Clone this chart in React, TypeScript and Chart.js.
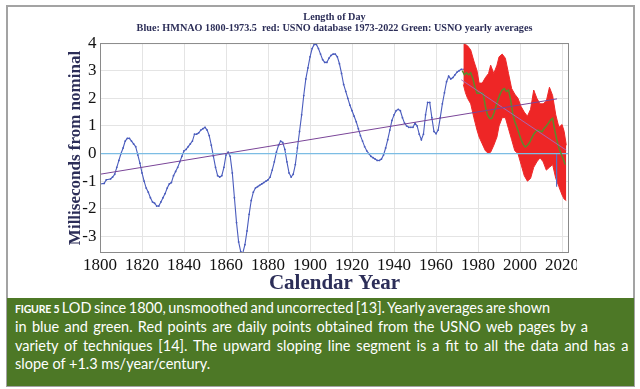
import React, { useEffect, useRef } from 'react';
import { Chart, registerables } from 'chart.js';

Chart.register(...registerables);

// Blue: HMNAO yearly LOD 1800-1973.5 (ms from nominal)
const blueYears = [
  1800, 1802, 1803, 1805, 1806, 1807, 1808, 1809, 1810, 1811, 1812, 1813, 1814, 1815, 1816, 1817, 1818, 1819,
  1820, 1821, 1822, 1823, 1824, 1825, 1826, 1827, 1828, 1829, 1830, 1831, 1832, 1833, 1834, 1835, 1836, 1837,
  1838, 1839, 1840, 1841, 1842, 1843, 1844, 1845, 1846, 1847, 1848, 1849, 1850, 1851, 1852, 1853, 1854, 1855,
  1856, 1857, 1858, 1859, 1860, 1861, 1862, 1863, 1864, 1865, 1866, 1867, 1868, 1869, 1870, 1871, 1872, 1873,
  1874, 1875, 1876, 1877, 1878, 1879, 1880, 1881, 1882, 1883, 1884, 1885, 1886, 1887, 1888, 1889, 1890, 1891,
  1892, 1893, 1894, 1895, 1896, 1897, 1898, 1899, 1900, 1901, 1902, 1903, 1904, 1905, 1906, 1907, 1908, 1909,
  1910, 1911, 1912, 1913, 1914, 1915, 1916, 1917, 1918, 1919, 1920, 1921, 1922, 1923, 1924, 1925, 1926, 1927,
  1928, 1929, 1930, 1931, 1932, 1933, 1934, 1935, 1936, 1937, 1938, 1939, 1940, 1941, 1942, 1943, 1944, 1945,
  1946, 1947, 1948, 1949, 1950, 1951, 1952, 1953, 1954, 1955, 1956, 1957, 1958, 1959, 1960, 1961, 1962, 1963,
  1964, 1965, 1966, 1967, 1968, 1969, 1970, 1971, 1972, 1973.5,
];
const blueValues = [
  -1.1, -1.08, -0.95, -0.92, -0.85, -0.75, -0.5, -0.25, 0.0, 0.2, 0.45, 0.55, 0.55, 0.45, 0.35, 0.25, -0.05, -0.35,
  -0.7, -1.0, -1.25, -1.4, -1.6, -1.75, -1.8, -1.9, -1.9, -1.75, -1.6, -1.45, -1.25, -1.1, -1.05, -0.8, -0.65, -0.5,
  -0.3, -0.1, 0.1, 0.15, 0.25, 0.35, 0.45, 0.7, 0.7, 0.75, 0.85, 0.9, 0.95, 0.85, 0.65, 0.3, -0.1, -0.5,
  -0.8, -0.85, -0.8, -0.5, -0.05, 0.05, -0.1, -0.7, -1.6, -2.5, -3.2, -3.55, -3.6, -3.3, -2.8, -2.2, -1.7, -1.4,
  -1.25, -1.2, -1.15, -1.1, -1.05, -1.0, -0.95, -0.85, -0.6, -0.3, 0.05, 0.3, 0.45, 0.4, 0.15, -0.3, -0.7, -0.85,
  -0.75, -0.4, 0.2, 0.8, 1.4, 2.1, 2.7, 3.1, 3.5, 3.8, 3.95, 3.95, 3.8, 3.6, 3.4, 3.3, 3.3, 3.45,
  3.55, 3.6, 3.6, 3.5, 3.25, 2.9, 2.5, 2.25, 2.0, 1.75, 1.55, 1.35, 1.15, 0.9, 0.65, 0.45, 0.25, 0.1,
  0.0, -0.1, -0.15, -0.2, -0.25, -0.25, -0.2, -0.05, 0.2, 0.5, 0.85, 1.2, 1.4, 1.55, 1.6, 1.55, 1.3, 1.1,
  1.0, 0.95, 0.95, 0.95, 1.1, 1.0, 0.7, 0.5, 0.7, 1.4, 1.85, 1.85, 1.3, 0.8, 0.72, 0.85, 1.3, 1.8,
  2.2, 2.6, 2.8, 2.7, 2.75, 2.85, 2.95, 3.0, 3.05, 3.05,
];

// Red: USNO daily data 1973-2022, envelope (upper / lower) of the daily scatter
const redYears = [
  1973, 1974, 1975, 1976.5, 1978, 1979.5, 1980.5, 1982, 1983.5, 1985, 1986, 1987.5, 1989, 1990, 1991.5, 1993,
  1994.5, 1996, 1997.5, 1999, 2000.5, 2002, 2003.5, 2005, 2006.5, 2008, 2009.5, 2011, 2012.5, 2014, 2015.5, 2017,
  2018.5, 2020, 2021, 2022,
];
const redHigh = [
  4.05, 3.95, 3.9, 3.75, 3.35, 3.0, 2.55, 2.55, 2.75, 2.9, 3.2, 2.9, 3.2, 3.5, 3.6, 3.45,
  2.9, 2.35, 2.15, 2.0, 1.7, 1.5, 1.35, 1.6, 2.3, 2.0, 1.8, 1.8, 1.9, 2.4, 2.1, 1.4,
  0.95, 1.05, 0.8, 0.3,
];
const redLow = [
  2.5, 2.2, 2.0, 1.8, 1.3, 0.85, 0.6, 0.35, 0.1, 0.0, 0.05, 0.3, 0.6, 1.0, 1.3, 1.3,
  0.9, 0.5, 0.1, 0.0, -0.4, -0.8, -1.0, -0.9, -0.5, -0.3, -0.15, -0.3, -0.6, -0.5, -0.4, -0.9,
  -1.2, -1.5, -1.65, -1.7,
];

// Green: USNO yearly averages
const greenYears = [
  1972.5, 1973.5, 1974.5, 1975.5, 1976.5, 1977.5, 1978.5, 1979.5, 1980.5, 1981.5, 1982.5, 1983.5, 1984.5, 1985.5,
  1986.5, 1987.5, 1988.5, 1989.5, 1990.5, 1991.5, 1992.5, 1993.5, 1994.5, 1995.5, 1996.5, 1997.5, 1998.5, 1999.5,
  2000.5, 2001.5, 2002.5, 2003.5, 2004.5, 2005.5, 2006.5, 2007.5, 2008.5, 2009.5, 2010.5, 2011.5, 2012.5, 2013.5,
  2014.5, 2015.5, 2016.5, 2017.5, 2018.5, 2019.5, 2020.5, 2021.5,
];
const greenValues = [
  3.0, 2.85, 2.92, 2.85, 2.92, 2.72, 2.4, 2.18, 2.18, 2.2, 2.15, 1.7, 1.4, 1.27,
  1.27, 1.45, 1.7, 1.95, 2.15, 2.3, 2.35, 2.25, 2.3, 1.95, 1.45, 1.15, 0.95, 0.73,
  0.5, 0.33, 0.24, 0.3, 0.4, 0.55, 0.7, 0.8, 0.85, 0.82, 0.79, 0.92, 1.0, 1.1,
  1.21, 1.27, 0.85, 0.5, 0.2, 0.0, -0.2, -0.4,
];

// Fit lines
const trendYears = [1800, 2017.6];
const trendValues = [-0.75, 1.98];
const redFitYears = [1972, 2022];
const redFitValues = [2.67, 0.12];
const zeroYears = [1800, 2023.3];
const zeroValues = [0, 0];
const blueTailYears = [2017.4, 2017.4];
const blueTailValues = [0, -1.2];

const xTicks = [1800, 1820, 1840, 1860, 1880, 1900, 1920, 1940, 1960, 1980, 2000, 2020];
const yTicks = [-3, -2, -1, 0, 1, 2, 3, 4];

const titleLines = [
  'Length of Day',
  'Blue: HMNAO 1800-1973.5  red: USNO database 1973-2022 Green: USNO yearly averages',
];

const captionLines = [
  'LOD since 1800, unsmoothed and uncorrected [13]. Yearly averages are shown',
  'in blue and green. Red points are daily points obtained from the USNO web pages by a',
  'variety of techniques [14]. The upward sloping line segment is a fit to all the data and has a',
  'slope of +1.3 ms/year/century.',
];

const pts = (xs: number[], ys: number[]) => xs.map((x, i) => ({ x, y: ys[i] }));

const SERIF = '"Liberation Serif", "Times New Roman", serif';
const NAVY = '#2c2e58';

export default function App() {
  const ref = useRef<HTMLCanvasElement>(null);

  useEffect(() => {
    document.body.style.margin = '0';
    const canvas = ref.current;
    if (!canvas) return;

    const framePlugin = {
      id: 'plotFrame',
      afterDraw(chart: any) {
        const { ctx, chartArea: a } = chart;
        ctx.save();
        ctx.strokeStyle = '#8a8a8a';
        ctx.lineWidth = 1;
        ctx.strokeRect(a.left + 0.5, a.top + 0.5, a.right - a.left - 1, a.bottom - a.top - 1);
        ctx.restore();
      },
    };

    const chart = new Chart(canvas, {
      type: 'line',
      data: {
        datasets: [
          {
            label: 'trend',
            data: pts(trendYears, trendValues),
            borderColor: '#7a4598',
            borderWidth: 1,
            pointRadius: 0,
            order: 0,
          },
          {
            label: 'red fit',
            data: pts(redFitYears, redFitValues),
            borderColor: 'rgba(160,110,190,0.9)',
            borderWidth: 1,
            pointRadius: 0,
            order: 1,
          },
          {
            label: 'green',
            data: pts(greenYears, greenValues),
            borderColor: '#5b8c2c',
            borderWidth: 1.5,
            pointRadius: 0,
            order: 2,
          },
          {
            label: 'zero',
            data: pts(zeroYears, zeroValues),
            borderColor: '#7cbde4',
            borderWidth: 1.3,
            pointRadius: 0,
            order: 3,
          },
          {
            label: 'blue tail',
            data: pts(blueTailYears, blueTailValues),
            borderColor: '#5a6fc4',
            borderWidth: 1.2,
            pointRadius: 0,
            order: 4,
          },
          {
            label: 'red low',
            data: pts(redYears, redLow),
            borderColor: '#ee2a2a',
            borderWidth: 1,
            backgroundColor: '#ee2626',
            pointRadius: 0,
            fill: 6,
            order: 5,
          },
          {
            label: 'red high',
            data: pts(redYears, redHigh),
            borderColor: '#ee2a2a',
            borderWidth: 1,
            pointRadius: 0,
            order: 6,
          },
          {
            label: 'blue',
            data: pts(blueYears, blueValues),
            borderColor: '#4a5cbd',
            borderWidth: 1.1,
            pointRadius: 0.9,
            pointBackgroundColor: '#4a5cbd',
            pointBorderWidth: 0,
            order: 7,
          },
        ],
      },
      options: {
        responsive: false,
        animation: false,
        events: [],
        layout: { padding: { left: 0, right: 71, top: 12, bottom: 0 } },
        plugins: {
          legend: { display: false },
          tooltip: { enabled: false },
          title: {
            display: true,
            fullSize: false,
            text: titleLines,
            color: NAVY,
            font: { family: SERIF, size: 10.2, weight: 'bold', lineHeight: 1.1 },
            padding: { top: 0, bottom: 8.6 },
          },
        },
        scales: {
          x: {
            type: 'linear',
            min: 1800,
            max: 2023.3,
            afterBuildTicks: (s: any) => {
              s.ticks = xTicks.map((v) => ({ value: v }));
            },
            afterFit: (s: any) => {
              s.height = 296 - 253;
            },
            ticks: {
              color: '#111',
              font: { family: SERIF, size: 17 },
              padding: 2,
              maxRotation: 0,
              autoSkip: false,
              callback: (v: any) => String(v),
            },
            grid: { color: '#e4e4e4', drawTicks: false, tickLength: 0 },
            border: { display: false },
            title: {
              display: true,
              text: 'Calendar Year',
              color: NAVY,
              font: { family: SERIF, size: 21, weight: 'bold' },
              padding: { top: 0, bottom: 0 },
            },
          },
          y: {
            type: 'linear',
            min: -3.6,
            max: 4,
            afterBuildTicks: (s: any) => {
              s.ticks = yTicks.map((v) => ({ value: v }));
            },
            afterFit: (s: any) => {
              s.width = 100;
            },
            ticks: {
              color: '#111',
              font: { family: SERIF, size: 17 },
              padding: 3.5,
              callback: (v: any) => String(v),
            },
            grid: { color: '#e4e4e4', drawTicks: false, tickLength: 0 },
            border: { display: false },
            title: {
              display: true,
              text: 'Milliseconds from nominal',
              color: NAVY,
              font: { family: SERIF, size: 17, weight: 'bold' },
              padding: { top: 65, bottom: 0 },
            },
          },
        },
      },
      plugins: [framePlugin],
    } as any);

    return () => chart.destroy();
  }, []);

  const wordSpacings = [-1.2, 1.6, 2.2, 0];

  return (
    <div style={{ position: 'relative', width: 640, height: 389, background: '#fff', overflow: 'hidden' }}>
      <div
        style={{
          position: 'absolute',
          left: 6,
          top: 5,
          width: 629,
          height: 382,
          border: '2px solid #a3a3a3',
          boxSizing: 'border-box',
        }}
      />
      <div style={{ position: 'absolute', left: 0, top: 0, width: 577, height: 296, overflow: 'hidden' }}>
        <canvas ref={ref} width={640} height={296} style={{ display: 'block', width: 640, height: 296 }} />
      </div>
      <div
        style={{
          position: 'absolute',
          left: 7,
          top: 298,
          width: 627,
          height: 88,
          background: '#4d7826',
          color: '#fff',
          fontFamily: 'Lato, "Open Sans", sans-serif',
          fontSize: 14.5,
          lineHeight: '18.3px',
          padding: '1px 0 0 8px',
          boxSizing: 'border-box',
          whiteSpace: 'nowrap',
        }}
      >
        {captionLines.map((line, i) => (
          <div key={i} style={{ wordSpacing: wordSpacings[i] }}>
            {i === 0 ? (
              <>
                <span style={{ fontSize: 10.5, fontWeight: 700, letterSpacing: -0.2, wordSpacing: 0 }}>FIGURE 5</span>{' '}
              </>
            ) : null}
            {line}
          </div>
        ))}
      </div>
    </div>
  );
}
